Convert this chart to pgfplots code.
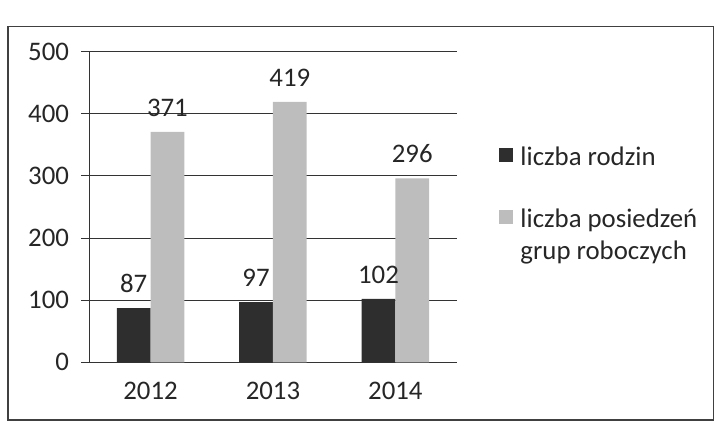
\documentclass[border=0pt]{standalone}
\usepackage{pgfplots}
\pgfplotsset{compat=1.18}
\usepackage{fontspec}
\setmainfont{Carlito}
\definecolor{darkbar}{HTML}{2E2E2E}
\definecolor{lightbar}{HTML}{BDBDBD}
\definecolor{gridc}{HTML}{333333}
\begin{document}
\begin{tikzpicture}
\begin{axis}[
  width=370pt, height=313pt, scale only axis, clip=false,
  ybar=0pt, bar width=34pt,
  xmin=-0.5, xmax=2.5, ymin=0, ymax=500,
  xtick={0,1,2}, xticklabels={2012,2013,2014},
  x tick style={draw=none},
  extra x ticks={-0.5,0.5,1.5,2.5},
  extra x tick labels={},
  extra x tick style={tick style={draw=gridc, line width=1pt}, major tick length=8pt},
  ytick={0,100,...,500},
  ymajorgrids,
  grid style={gridc, line width=1pt},
  axis x line*=bottom, axis y line*=left,
  axis line style={gridc, line width=1pt},
  y tick style={gridc, line width=1pt},
  tick align=outside, major tick length=8pt,
  /pgf/number format/assume math mode=true,
  ticklabel style={font=\fontsize{27}{32}\selectfont, text=black!85},
  xticklabel style={yshift=-8pt},
  yticklabel style={xshift=-9pt},
  nodes near coords,
  every node near coord/.append style={font=\fontsize{27}{32}\selectfont, text=black!85, yshift=12pt},
  legend style={at={(1.114,0.70)}, anchor=north west, draw=none, fill=none,
    inner sep=0pt, row sep=38pt, column sep=6pt, font=\fontsize{27}{32}\selectfont,
    text=black!85},
  legend cell align=left,
  legend image code/.code={\fill[#1] (0pt,-5pt) rectangle (14pt,9pt);},
]
\addplot[fill=darkbar, draw=none] coordinates {(0,87) (1,97) (2,102)};
\addplot[fill=lightbar, draw=none] coordinates {(0,371) (1,419) (2,296)};
\legend{liczba rodzin, \parbox[t]{200pt}{liczba posiedzeń\\grup roboczych}}
\draw[black!75, line width=1.5pt] (rel axis cs:-0.2216,-0.185) rectangle (rel axis cs:1.70,1.08);
\path (rel axis cs:-0.2432,-0.1981) rectangle (rel axis cs:1.7054,1.1661);
\end{axis}
\end{tikzpicture}
\end{document}
